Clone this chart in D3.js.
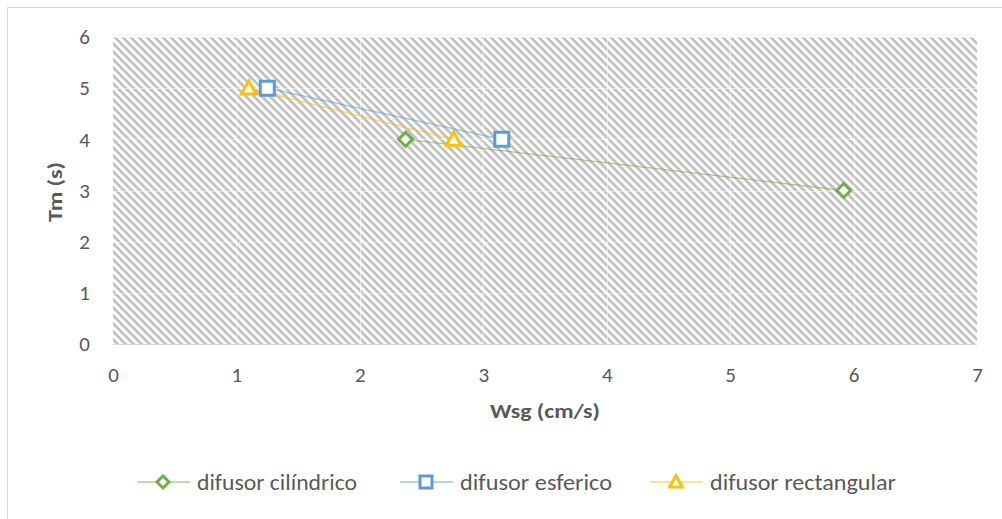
<!DOCTYPE html>
<html>
<head>
<meta charset="utf-8">
<script src="https://cdn.jsdelivr.net/npm/d3@7"></script>
<style>
  body { margin: 0; background: #fff; }
  text { font-family: Carlito, Calibri, Lato, sans-serif; fill: #595959; }
</style>
</head>
<body>
<svg id="chart" width="1002" height="519"></svg>
<script>
// series values
var cilindrico = [[2.37, 4], [5.92, 3]];
var esferico = [[1.25, 5], [3.15, 4]];
var rectangular = [[1.1, 5], [2.76, 4]];
var seriesNames = ["difusor cilíndrico", "difusor esferico", "difusor rectangular"];
var xTicks = [0, 1, 2, 3, 4, 5, 6, 7];
var yTicks = [0, 1, 2, 3, 4, 5, 6];

var svg = d3.select("#chart");
var pL = 113, pR = 977, pT = 37, pB = 344;

var x = d3.scaleLinear().domain([0, 7]).range([pL, pR]);
var y = d3.scaleLinear().domain([0, 6]).range([pB, pT]);

// outer border
svg.append("rect").attr("x", 7.5).attr("y", 7.5).attr("width", 1010).attr("height", 530)
    .attr("fill", "none").attr("stroke", "#d9d9d9");

// wide downward diagonal hatch, 8x8 pixels
var pat = svg.append("defs").append("pattern")
    .attr("id", "hatch").attr("patternUnits", "userSpaceOnUse")
    .attr("x", pL).attr("y", pT).attr("width", 8).attr("height", 8);
pat.append("rect").attr("width", 8).attr("height", 8).attr("fill", "#fff");
d3.range(8).forEach(function (r) {
    d3.range(4).forEach(function (k) {
        pat.append("rect").attr("x", (r + k) % 8).attr("y", r)
            .attr("width", 1).attr("height", 1).attr("fill", "#c4c4c4");
    });
});
svg.append("rect").attr("x", pL).attr("y", pT)
    .attr("width", pR - pL).attr("height", pB - pT)
    .attr("fill", "url(#hatch)").attr("shape-rendering", "crispEdges");

// faint gridlines
var grid = svg.append("g").attr("stroke", "#fff").attr("stroke-opacity", 0.5)
    .attr("shape-rendering", "crispEdges");
grid.selectAll(".gy").data(yTicks.slice(1)).enter().append("line")
    .attr("x1", pL).attr("x2", pR)
    .attr("y1", d => Math.round(y(d)) + 0.5).attr("y2", d => Math.round(y(d)) + 0.5);
grid.selectAll(".gx").data(xTicks.slice(1, -1)).enter().append("line")
    .attr("y1", pT).attr("y2", pB)
    .attr("x1", d => Math.round(x(d)) + 0.5).attr("x2", d => Math.round(x(d)) + 0.5);

svg.append("line").attr("x1", pL).attr("x2", pR)
    .attr("y1", pB + 0.5).attr("y2", pB + 0.5).attr("stroke", "#d9d9d9");

// axes
var xAxis = svg.append("g").attr("transform", "translate(0," + pB + ")")
    .call(d3.axisBottom(x).tickValues(xTicks).tickFormat(d3.format("d")).tickSize(0).tickPadding(23));
var yAxis = svg.append("g").attr("transform", "translate(" + pL + ",0)")
    .call(d3.axisLeft(y).tickValues(yTicks).tickFormat(d3.format("d")).tickSize(0).tickPadding(23));
[xAxis, yAxis].forEach(function (a) {
    a.select(".domain").remove();
    a.selectAll("text").attr("font-size", 21).attr("font-family", null).style("fill", "#595959");
});

svg.append("text").attr("x", 545).attr("y", 418).attr("text-anchor", "middle")
    .attr("font-size", 21).attr("font-weight", "bold")
    .attr("textLength", 110).attr("lengthAdjust", "spacingAndGlyphs").text("Wsg (cm/s)");
svg.append("text").attr("transform", "translate(62,192) rotate(-90)").attr("text-anchor", "middle")
    .attr("font-size", 21).attr("font-weight", "bold")
    .attr("textLength", 60).attr("lengthAdjust", "spacingAndGlyphs").text("Tm (s)");

var colors = ["#70ad47", "#5b9bd5", "#ffc000"];
// marker outlines drawn around (0,0)
function marker(i, r) {
    if (i == 0) return "M0," + (-r) + "L" + r + ",0L0," + r + "L" + (-r) + ",0Z";
    if (i == 1) return "M" + (-r) + "," + (-r) + "H" + r + "V" + r + "H" + (-r) + "Z";
    return "M0," + (-r * 1.05) + "L" + (r * 1.05) + "," + (r * 0.85) + "L" + (-r * 1.05) + "," + (r * 0.85) + "Z";
}
var rad = [7, 7, 7];
var data = [cilindrico, esferico, rectangular];

var line = d3.line().x(d => x(d[0])).y(d => y(d[1]));

data.forEach(function (s, i) {
    svg.append("path").datum(s).attr("d", line).attr("fill", "none")
        .attr("stroke", colors[i]).attr("stroke-width", 1.3).attr("stroke-opacity", 0.6);
});
data.forEach(function (s, i) {
    svg.selectAll(null).data(s).enter().append("path")
        .attr("transform", d => "translate(" + x(d[0]) + "," + y(d[1]) + ")")
        .attr("d", marker(i, rad[i]))
        .attr("fill", "#fff").attr("stroke", colors[i]).attr("stroke-width", 3);
});

// legend
var legX = [137, 400, 650];
var legW = [160, 152, 186];
var leg = svg.selectAll(".leg").data(seriesNames).enter().append("g")
    .attr("transform", (d, i) => "translate(" + legX[i] + ",482)");
leg.append("line").attr("x1", 0).attr("x2", 53)
    .attr("stroke", (d, i) => colors[i]).attr("stroke-width", 1.3).attr("stroke-opacity", 0.6);
leg.append("path").attr("transform", "translate(26,0)")
    .attr("d", (d, i) => marker(i, 6))
    .attr("fill", "#fff").attr("stroke", (d, i) => colors[i]).attr("stroke-width", 3);
leg.append("text").attr("x", 60).attr("y", 8).attr("font-size", 22)
    .attr("textLength", (d, i) => legW[i]).attr("lengthAdjust", "spacingAndGlyphs").text(d => d);
</script>
</body>
</html>
